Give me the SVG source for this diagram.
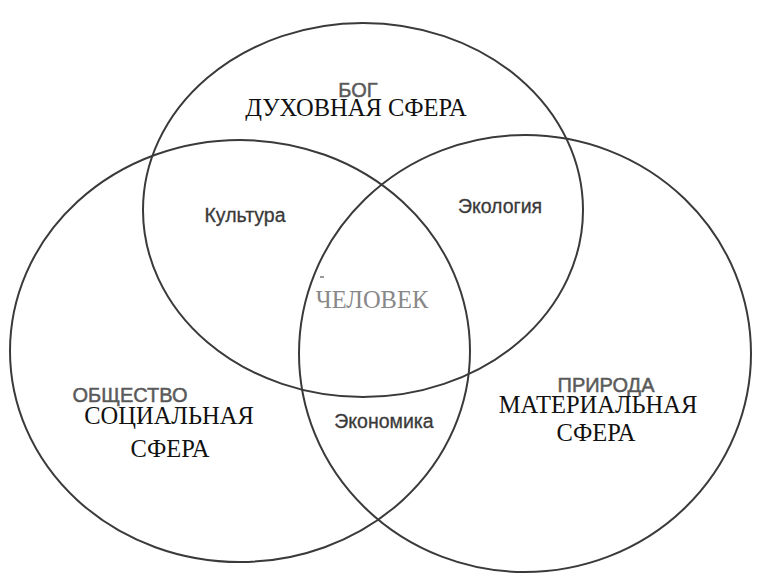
<svg xmlns="http://www.w3.org/2000/svg" width="768" height="583" viewBox="0 0 768 583">
<style>
.c{fill:none;stroke:#3a3a3a;stroke-width:2}
.s{font-family:"Liberation Sans",Arial,sans-serif;fill:#3a3a3a;font-size:19.5px;text-anchor:middle;stroke:#3a3a3a;stroke-width:0.3}
.g{font-family:"Liberation Sans",Arial,sans-serif;fill:#5a5a5a;font-size:20px;text-anchor:middle;stroke:#5a5a5a;stroke-width:0.5}
.t{font-family:"Liberation Serif","Times New Roman",serif;fill:#111;font-size:24.5px;text-anchor:middle}
</style>
<rect width="768" height="583" fill="#fff"/>
<g id="connectors">
<ellipse id="spiritual-circle" class="c" cx="363" cy="210" rx="220" ry="187"/>
<ellipse id="social-circle" class="c" cx="240" cy="351" rx="230" ry="211"/>
<ellipse id="material-circle" class="c" cx="525" cy="353.5" rx="226" ry="218.5"/>
</g>
<g id="spiritual">
<text class="g" x="358" y="97">БОГ</text>
<text class="t" x="356" y="116">ДУХОВНАЯ СФЕРА</text>
</g>
<g id="social">
<text class="g" x="130" y="402">ОБЩЕСТВО</text>
<text class="t" x="169" y="424">СОЦИАЛЬНАЯ</text>
<text class="t" x="170" y="457">СФЕРА</text>
</g>
<g id="material">
<text class="g" x="606" y="392">ПРИРОДА</text>
<text class="t" x="598" y="413">МАТЕРИАЛЬНАЯ</text>
<text class="t" x="596" y="441">СФЕРА</text>
</g>
<g id="culture"><text class="s" x="245" y="222">Культура</text></g>
<g id="ecology"><text class="s" x="500" y="213">Экология</text></g>
<g id="economy"><text class="s" x="384" y="428">Экономика</text></g>
<g id="human">
<line x1="320" y1="277" x2="324" y2="277" stroke="#777" stroke-width="1.5"/>
<text class="t" x="372" y="308" style="fill:#888">ЧЕЛОВЕК</text>
</g>
</svg>
